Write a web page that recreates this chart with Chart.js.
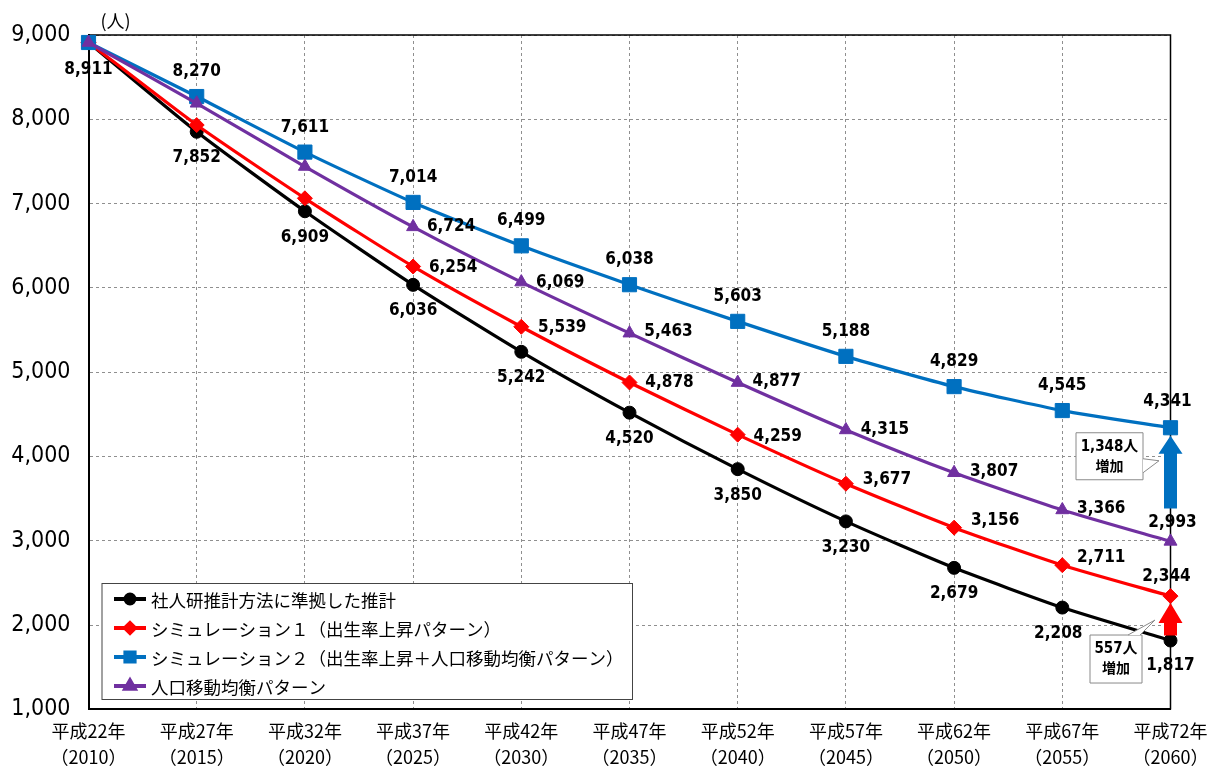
<!DOCTYPE html>
<html lang="ja">
<head>
<meta charset="utf-8">
<title>人口の将来展望</title>
<script src="https://cdn.jsdelivr.net/npm/chart.js@4.4.1/dist/chart.umd.min.js"></script>
<style>
  html, body { margin: 0; padding: 0; background: #fff; }
  canvas { display: block; }
</style>
</head>
<body>
<canvas id="popChart" width="1210" height="767"></canvas>
<script>
// ---- data ----
const eraLabels  = ['平成22年', '平成27年', '平成32年', '平成37年', '平成42年', '平成47年',
                    '平成52年', '平成57年', '平成62年', '平成67年', '平成72年'];
const yearLabels = ['（2010）', '（2015）', '（2020）', '（2025）', '（2030）', '（2035）',
                    '（2040）', '（2045）', '（2050）', '（2055）', '（2060）'];
const seriesNames = [
  '社人研推計方法に準拠した推計',
  'シミュレーション１（出生率上昇パターン）',
  'シミュレーション２（出生率上昇＋人口移動均衡パターン）',
  '人口移動均衡パターン'
];
const baseProjection = [8911, 7852, 6909, 6036, 5242, 4520, 3850, 3230, 2679, 2208, 1817];
const simulation1    = [8911, 7932, 7063, 6254, 5539, 4878, 4259, 3677, 3156, 2711, 2344];
const simulation2    = [8911, 8270, 7611, 7014, 6499, 6038, 5603, 5188, 4829, 4545, 4341];
const migrationEven  = [8911, 8190, 7440, 6724, 6069, 5463, 4877, 4315, 3807, 3366, 2993];
const yMin = 1000, yMax = 9000, yStep = 1000;
const unitLabel = '(人)';
const increaseNotes = [['1,348人', '増加'], ['557人', '増加']];

// ---- styles ----
const NUM_FONT = '"Liberation Sans Narrow", "DejaVu Sans Condensed", "Noto Sans CJK JP", sans-serif';
const JP_FONT = '"Noto Sans CJK JP", "Noto Sans", sans-serif';
const colors = ['#000000', '#ff0000', '#0070c0', '#7030a0'];
const markers = [
  { style: 'circle',   radius: 6.5, legendRadius: 4.5 },
  { style: 'rectRot',  radius: 7.5, legendRadius: 5 },
  { style: 'rect',     radius: 10,  legendRadius: 6.5 },
  { style: 'triangle', radius: 7.5, legendRadius: 5.5 }
];
const drawOrder = [3, 2, 1, 0]; // higher value is painted first

// value label placement per series: default offset, per-index overrides, hidden indices
const labelPlacement = [
  { offset: [0, 26],  at: { 0: [0, 27], 9: [-4, 26], 10: [0, 25] }, skip: [] },
  { offset: [40, 0],  at: { 3: [40, 1], 4: [41, 1], 6: [40, 2], 7: [41, -4], 8: [41, -7], 9: [39, -8], 10: [-4, -20] }, skip: [0, 1, 2] },
  { offset: [0, -25], at: { 10: [-3, -26] }, skip: [0] },
  { offset: [39, 0],  at: { 3: [38, 0], 5: [39, -2], 6: [39, -1], 8: [40, -1], 9: [39, -1], 10: [2, -19] }, skip: [0, 1, 2] }
];

const seriesData = [baseProjection, simulation1, simulation2, migrationEven];

const datasets = seriesData.map((values, i) => ({
  label: seriesNames[i],
  data: values,
  borderColor: colors[i],
  backgroundColor: colors[i],
  borderWidth: 3.2,
  pointStyle: markers[i].style,
  pointRadius: markers[i].radius,
  pointBorderWidth: 1,
  pointBorderColor: colors[i],
  pointBackgroundColor: colors[i],
  tension: 0.2,
  clip: false,
  order: drawOrder[i]
}));

// ---- plugins ----
const plotFrame = {
  id: 'plotFrame',
  beforeDatasetsDraw(chart) {
    const { ctx, chartArea: a } = chart;
    ctx.save();
    ctx.strokeStyle = '#000';
    ctx.lineWidth = 1.5;
    ctx.beginPath();
    ctx.moveTo(a.left, a.top);
    ctx.lineTo(a.right, a.top);
    ctx.lineTo(a.right, a.bottom);
    ctx.stroke();
    ctx.restore();
  }
};

const valueLabels = {
  id: 'valueLabels',
  afterDatasetsDraw(chart) {
    const ctx = chart.ctx;
    ctx.save();
    ctx.font = 'bold 17px ' + NUM_FONT;
    ctx.fillStyle = '#000';
    ctx.textAlign = 'center';
    ctx.textBaseline = 'middle';
    chart.data.datasets.forEach((ds, di) => {
      const pl = labelPlacement[di];
      chart.getDatasetMeta(di).data.forEach((pt, i) => {
        if (pl.skip.includes(i)) return;
        const off = pl.at[i] || pl.offset;
        ctx.fillText(ds.data[i].toLocaleString('en-US'), pt.x + off[0], pt.y + off[1]);
      });
    });
    ctx.restore();
  }
};

function upArrow(ctx, x, yTail, yTip, headH, headW, shaftW, color) {
  ctx.fillStyle = color;
  ctx.beginPath();
  ctx.moveTo(x - shaftW / 2, yTail);
  ctx.lineTo(x - shaftW / 2, yTip + headH);
  ctx.lineTo(x - headW / 2, yTip + headH);
  ctx.lineTo(x, yTip);
  ctx.lineTo(x + headW / 2, yTip + headH);
  ctx.lineTo(x + shaftW / 2, yTip + headH);
  ctx.lineTo(x + shaftW / 2, yTail);
  ctx.closePath();
  ctx.fill();
}

function callout(ctx, box, wedge, lines) {
  ctx.save();
  ctx.fillStyle = '#fff';
  ctx.strokeStyle = '#8a8a8a';
  ctx.lineWidth = 1;
  ctx.beginPath();
  ctx.rect(box.x1, box.y1, box.x2 - box.x1, box.y2 - box.y1);
  ctx.fill();
  ctx.stroke();
  // pointer wedge
  ctx.beginPath();
  ctx.moveTo(wedge[0][0], wedge[0][1]);
  ctx.lineTo(wedge[1][0], wedge[1][1]);
  ctx.lineTo(wedge[2][0], wedge[2][1]);
  ctx.closePath();
  ctx.fill();
  ctx.beginPath();
  ctx.moveTo(wedge[0][0], wedge[0][1]);
  ctx.lineTo(wedge[1][0], wedge[1][1]);
  ctx.lineTo(wedge[2][0], wedge[2][1]);
  ctx.stroke();
  ctx.fillStyle = '#000';
  ctx.font = 'bold 15px ' + NUM_FONT;
  ctx.textAlign = 'center';
  ctx.textBaseline = 'middle';
  const cx = (box.x1 + box.x2) / 2;
  ctx.fillText(lines[0], cx, box.y1 + 14);
  ctx.font = 'bold 14px ' + JP_FONT;
  ctx.fillText(lines[1], cx, box.y1 + 33);
  ctx.restore();
}

const increaseMarks = {
  id: 'increaseMarks',
  afterDatasetsDraw(chart) {
    const { ctx, scales: { x, y } } = chart;
    const last = eraLabels.length - 1;
    const px = x.getPixelForValue(last);
    ctx.save();
    // simulation 2 vs migration-balanced
    const yHi = y.getPixelForValue(simulation2[last]);
    const yLo = y.getPixelForValue(migrationEven[last]);
    upArrow(ctx, px, yLo - 33, yHi + 8, 18, 24, 13, colors[2]);
    // simulation 1 vs base projection
    const rHi = y.getPixelForValue(simulation1[last]);
    const rLo = y.getPixelForValue(baseProjection[last]);
    upArrow(ctx, px, rLo - 5, rHi + 7, 20, 24, 13, colors[1]);
    ctx.restore();

    callout(ctx,
      { x1: px - 94.5, y1: yHi + 5, x2: px - 27.5, y2: yHi + 52 },
      [[px - 27.5, yHi + 31], [px - 11.5, yHi + 33], [px - 27.5, yHi + 45]],
      increaseNotes[0]);
    callout(ctx,
      { x1: px - 80.5, y1: rLo - 5.5, x2: px - 28.5, y2: rLo + 42.5 },
      [[px - 42.5, rLo - 5.5], [px - 15.5, rLo - 20.5], [px - 30.5, rLo - 5.5]],
      increaseNotes[1]);
  }
};

const boxLegend = {
  id: 'boxLegend',
  afterDraw(chart) {
    const ctx = chart.ctx;
    const a = chart.chartArea;
    const left = a.left + 13.5, top = 583.5, right = 632.5, bottom = 699.5;
    ctx.save();
    ctx.fillStyle = '#fff';
    ctx.strokeStyle = '#444';
    ctx.lineWidth = 1;
    ctx.fillRect(left, top, right - left, bottom - top);
    ctx.strokeRect(left, top, right - left, bottom - top);
    ctx.font = '17.5px ' + JP_FONT;
    ctx.textBaseline = 'middle';
    ctx.textAlign = 'left';
    chart.data.datasets.forEach((ds, i) => {
      const cy = top + 15.5 + i * 29;
      ctx.strokeStyle = ds.borderColor;
      ctx.fillStyle = ds.borderColor;
      ctx.lineWidth = 4;
      ctx.beginPath();
      ctx.moveTo(left + 12, cy);
      ctx.lineTo(left + 44, cy);
      ctx.stroke();
      Chart.helpers.drawPoint(ctx, {
        pointStyle: markers[i].style,
        radius: markers[i].legendRadius,
        rotation: 0,
        borderWidth: 1
      }, left + 28, cy);
      ctx.fillStyle = '#000';
      ctx.fillText(ds.label, left + 49, cy + 1);
    });
    ctx.restore();
  }
};

const unitText = {
  id: 'unitText',
  afterDraw(chart) {
    const ctx = chart.ctx;
    ctx.save();
    ctx.font = '18px ' + JP_FONT;
    ctx.fillStyle = '#000';
    ctx.textAlign = 'center';
    ctx.textBaseline = 'middle';
    ctx.fillText(unitLabel, chart.chartArea.left + 27, 21);
    ctx.restore();
  }
};

// ---- chart ----
new Chart(document.getElementById('popChart'), {
  type: 'line',
  data: {
    labels: eraLabels.map((e, i) => [e, yearLabels[i]]),
    datasets
  },
  options: {
    responsive: false,
    animation: false,
    events: [],
    layout: { padding: { left: 0, right: 39.5, top: 35, bottom: 0 } },
    plugins: {
      legend: { display: false },
      tooltip: { enabled: false }
    },
    scales: {
      x: {
        type: 'category',
        offset: false,
        grid: { color: '#8f8f8f', lineWidth: 1, drawTicks: false, offset: false },
        border: { display: true, color: '#000', width: 2, dash: [3, 3] },
        ticks: {
          color: '#000',
          font: { family: JP_FONT, size: 18, lineHeight: 1.45 },
          padding: 9,
          maxRotation: 0,
          autoSkip: false
        },
        afterFit(scale) {
          scale.height = 57.6;
          scale.paddingLeft = 0;
          scale.paddingRight = 0;
        }
      },
      y: {
        min: yMin,
        max: yMax,
        grid: { color: '#8f8f8f', lineWidth: 1, drawTicks: false },
        border: { display: true, color: '#000', width: 2, dash: [3, 3] },
        ticks: {
          stepSize: yStep,
          color: '#000',
          font: { family: NUM_FONT, size: 23 },
          padding: 18,
          callback: v => v.toLocaleString('en-US')
        },
        afterFit(scale) {
          scale.width = 88.5;
          scale.paddingTop = 0;
          scale.paddingBottom = 0;
        }
      }
    }
  },
  plugins: [plotFrame, valueLabels, increaseMarks, boxLegend, unitText]
});
</script>
</body>
</html>
